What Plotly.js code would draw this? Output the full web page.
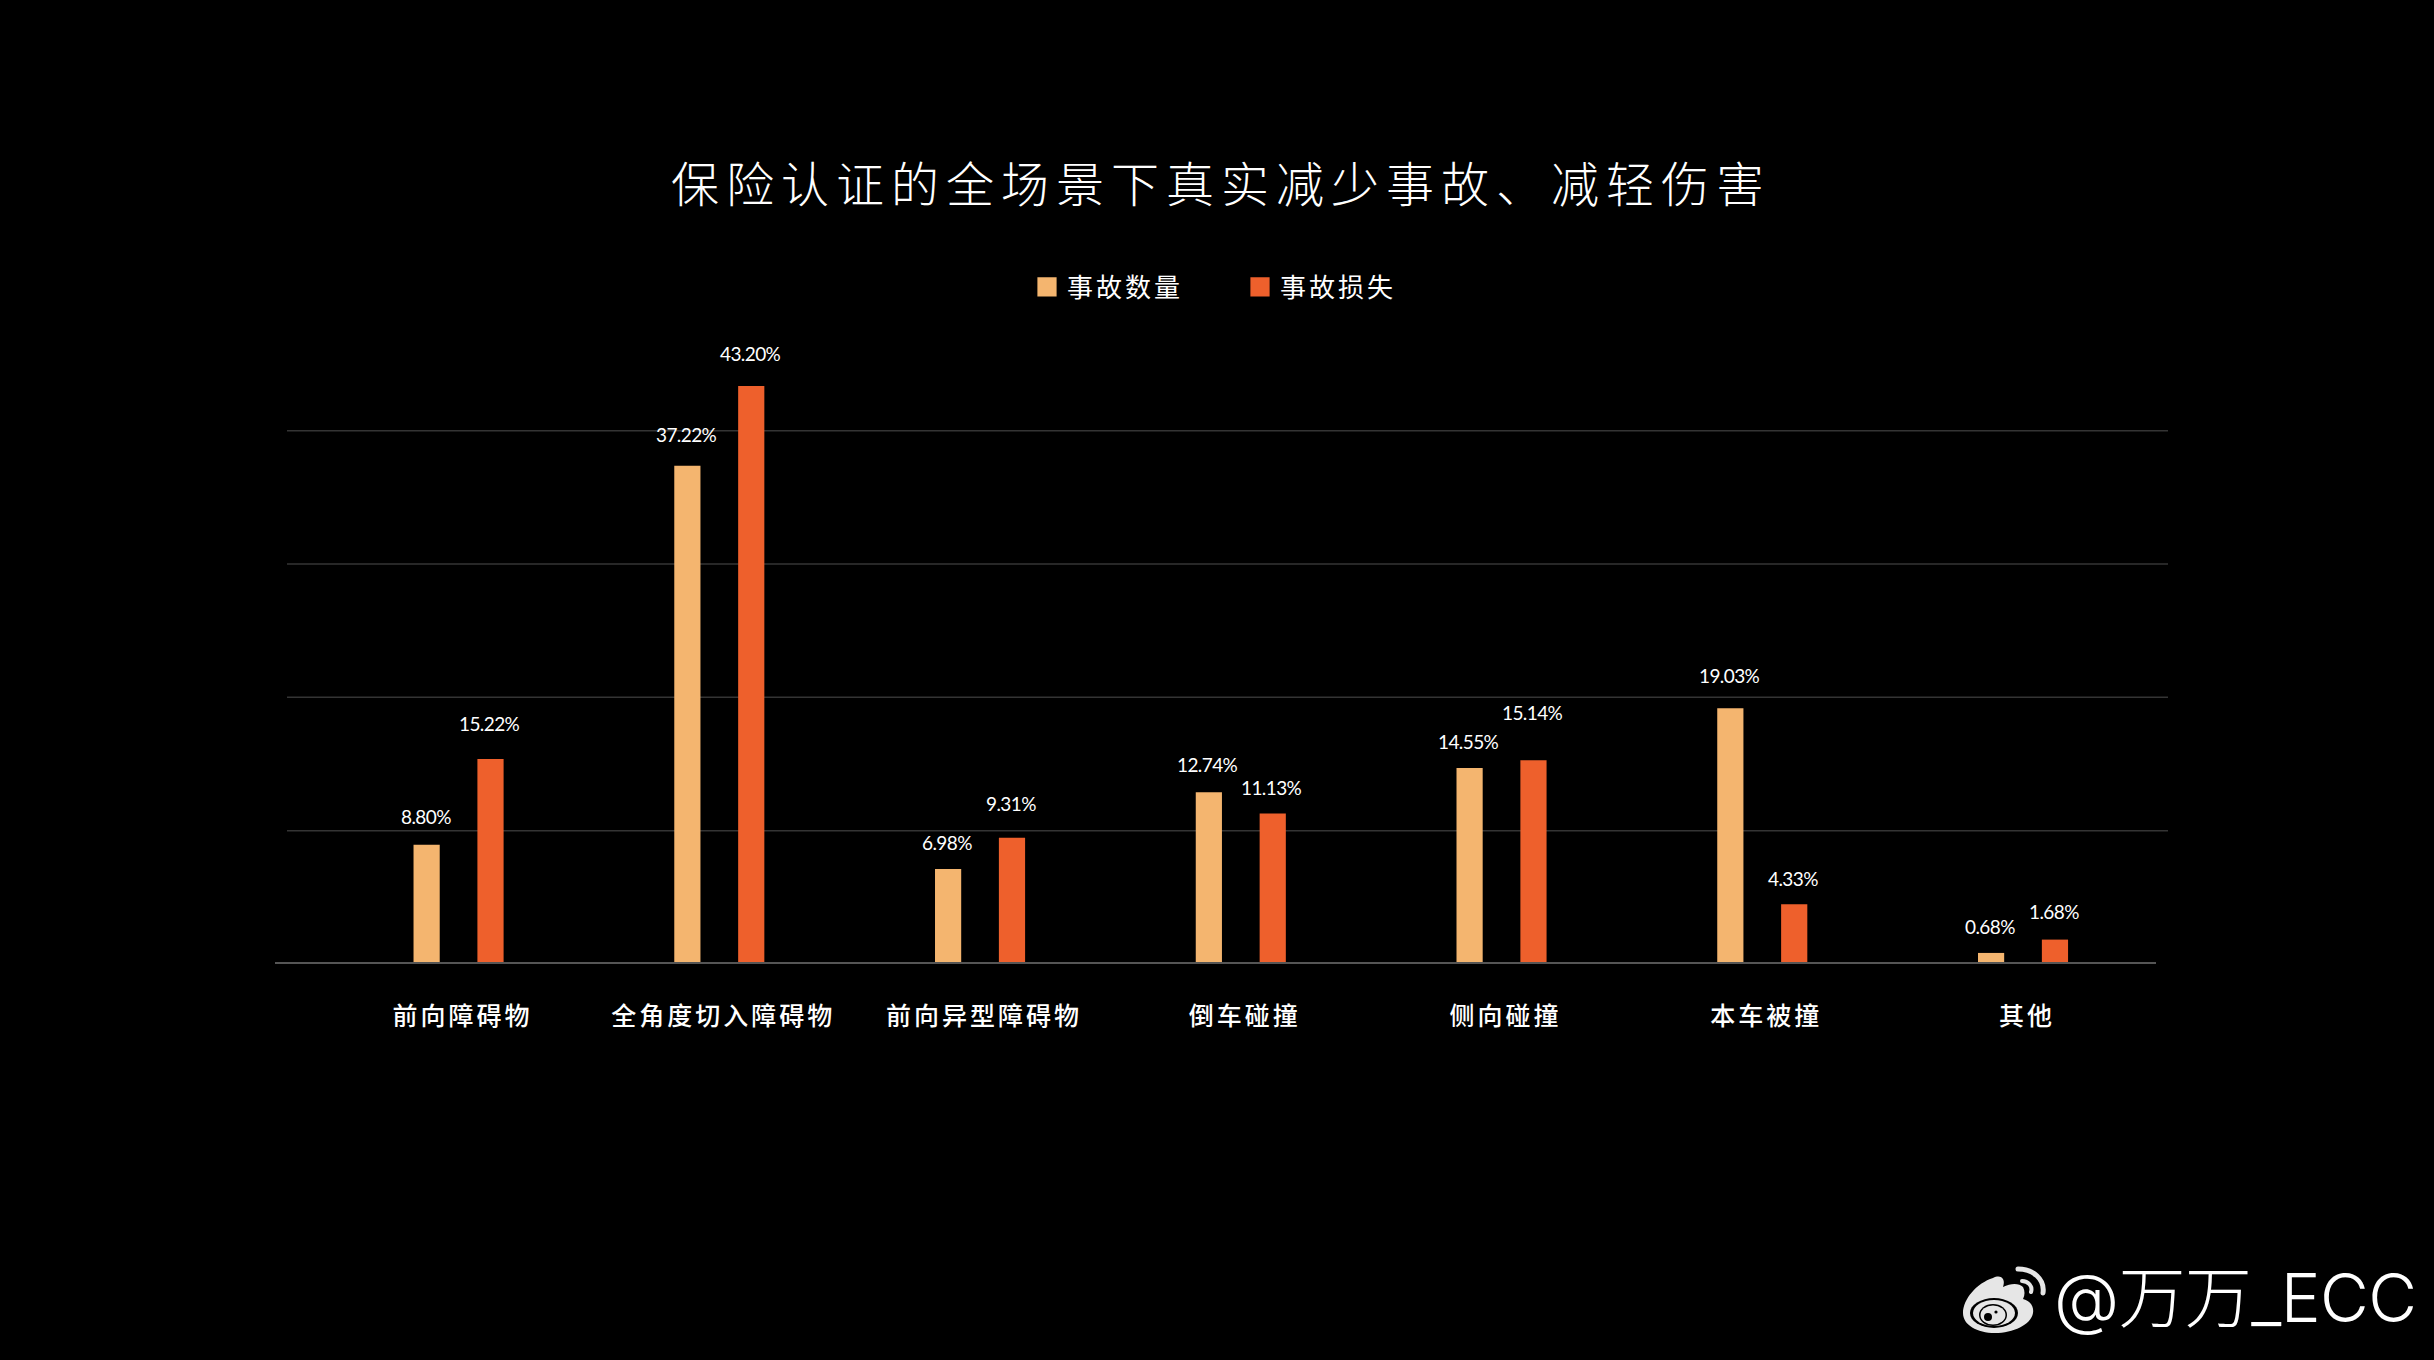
<!DOCTYPE html>
<html>
<head>
<meta charset="utf-8">
<script src="https://cdn.plot.ly/plotly-3.0.1.min.js"></script>
<style>
  html, body { margin: 0; padding: 0; background: #000; }
  .gtitle { letter-spacing: 7px; }
  .xtick text { letter-spacing: 3px; }
  .legendtext { letter-spacing: 3px; }
  .annotation-text { letter-spacing: -0.6px; }
  .legendpoints path { transform: translate(20px, 0) scale(1.6); }
</style>
</head>
<body>
<div id="chart" style="width:2434px;height:1360px"></div>
<script>
var categories = ['前向障碍物', '全角度切入障碍物', '前向异型障碍物', '倒车碰撞', '侧向碰撞', '本车被撞', '其他'];
var accidentCount = [8.80, 37.22, 6.98, 12.74, 14.55, 19.03, 0.68];
var accidentLoss = [15.22, 43.20, 9.31, 11.13, 15.14, 4.33, 1.68];
var gridValues = [10, 20, 30, 40];

var W = 2434, H = 1360;
var plotL = 275, plotR = 2156, plotT = 362, plotB = 962;
var paperX = function (px) { return (px - plotL) / (plotR - plotL); };
var paperY = function (py) { return (plotB - py) / (plotB - plotT); };

var cjk = '"Noto Sans CJK SC", sans-serif';
var COUNT_COLOR = '#F4B56F';
var LOSS_COLOR = '#EE602C';

var traceCount = {
  type: 'bar',
  name: '事故数量',
  x: categories,
  y: accidentCount,
  marker: { color: COUNT_COLOR },
  cliponaxis: false,
  hoverinfo: 'none'
};

var traceLoss = {
  type: 'bar',
  name: '事故损失',
  x: categories,
  y: accidentLoss,
  marker: { color: LOSS_COLOR },
  cliponaxis: false,
  hoverinfo: 'none'
};

// value labels sit by hand in the source, most of them about 28px over the bar
function valueLabels(values, shift, lifts) {
  return values.map(function (v, i) {
    return {
      xref: 'x', yref: 'y',
      x: i, y: v,
      xshift: shift,
      yshift: lifts[i] || 28,
      text: v.toFixed(2) + '%',
      showarrow: false,
      xanchor: 'center', yanchor: 'middle',
      font: { family: 'Lato, sans-serif', size: 19, color: '#fff' }
    };
  });
}

var annotations = valueLabels(accidentCount, -33, { 1: 31, 2: 26, 4: 27, 5: 33, 6: 26 })
  .concat(valueLabels(accidentLoss, 31, { 0: 36, 1: 33, 2: 34, 3: 26, 4: 48, 5: 26 }));

annotations.push({
  xref: 'paper', yref: 'paper',
  x: paperX(2052), y: paperY(1297),
  xanchor: 'left', yanchor: 'middle',
  text: '@万万_ECC',
  showarrow: false,
  font: { family: 'Inter, "Noto Sans CJK SC", sans-serif', size: 67, weight: 300, color: '#fff' }
});

var logo = '<svg xmlns="http://www.w3.org/2000/svg" width="83" height="68" viewBox="0 0 83 68">' +
  '<path fill="#e6e6e6" d="M0 48C0 34 14 18 30 13C38 9 43 14 40 22C48 18 56 18 60 22C62 26 62 30 60 34C68 36 71 42 70 48C68 60 50 68 32 68C14 68 0 60 0 48Z"/>' +
  '<ellipse cx="31" cy="48" rx="24" ry="15" fill="#000"/>' +
  '<ellipse cx="31" cy="48" rx="21" ry="13" fill="#e6e6e6"/>' +
  '<ellipse cx="30" cy="50" rx="14" ry="11" fill="#000"/>' +
  '<ellipse cx="30" cy="50" rx="12.5" ry="9.5" fill="#e6e6e6"/>' +
  '<circle cx="25" cy="52" r="4" fill="#000"/><circle cx="33" cy="47" r="1.6" fill="#000"/>' +
  '<path fill="none" stroke="#e6e6e6" stroke-width="5" stroke-linecap="round" d="M55 4C70 4 82 14 80 28"/>' +
  '<path fill="none" stroke="#e6e6e6" stroke-width="4" stroke-linecap="round" d="M59 16C65 16 70 21 68 27"/>' +
  '</svg>';

var layout = {
  width: W,
  height: H,
  paper_bgcolor: '#000',
  plot_bgcolor: '#000',
  margin: { l: plotL, r: W - plotR, t: plotT, b: H - plotB, pad: 0, autoexpand: false },
  barmode: 'group',
  bargap: 0.51,
  bargroupgap: 0.59,
  title: {
    text: '保险认证的全场景下真实减少事故、减轻伤害',
    x: (W / 2 + 4) / W, xref: 'container', xanchor: 'center',
    y: 1 - 185 / H, yref: 'container', yanchor: 'middle',
    font: { family: cjk, size: 48, weight: 300, color: '#fff' }
  },
  legend: {
    orientation: 'h',
    xref: 'container', yref: 'container',
    x: 1027 / W, xanchor: 'left',
    y: 1 - 287 / H, yanchor: 'middle',
    entrywidth: 168,
    entrywidthmode: 'pixels',
    font: { family: cjk, size: 26, color: '#fff' },
    bgcolor: 'rgba(0,0,0,0)'
  },
  xaxis: {
    type: 'category',
    range: [-0.704, 6.51],
    showline: true,
    linecolor: '#555',
    linewidth: 2,
    showgrid: false,
    zeroline: false,
    ticks: '',
    ticklabelstandoff: 31,
    ticklabelshift: 4,
    tickfont: { family: cjk, size: 25, weight: 500, color: '#fff' }
  },
  yaxis: {
    range: [0, 45],
    visible: false,
    showgrid: false,
    zeroline: false
  },
  shapes: gridValues.map(function (v) {
    return {
      type: 'line', layer: 'below',
      xref: 'paper', yref: 'y',
      x0: paperX(287), x1: paperX(2168),
      ysizemode: 'pixel', yanchor: v,
      y0: -2, y1: -2,
      line: { color: '#343434', width: 1.5 }
    };
  }),
  annotations: annotations,
  images: [{
    source: 'data:image/svg+xml,' + encodeURIComponent(logo),
    xref: 'paper', yref: 'paper',
    x: paperX(1963), y: paperY(1265),
    sizex: paperX(2046) - paperX(1963),
    sizey: paperY(1265) - paperY(1333),
    xanchor: 'left', yanchor: 'top',
    sizing: 'stretch',
    layer: 'above'
  }]
};

Plotly.newPlot('chart', [traceCount, traceLoss], layout, { displayModeBar: false, staticPlot: true });
</script>
</body>
</html>
